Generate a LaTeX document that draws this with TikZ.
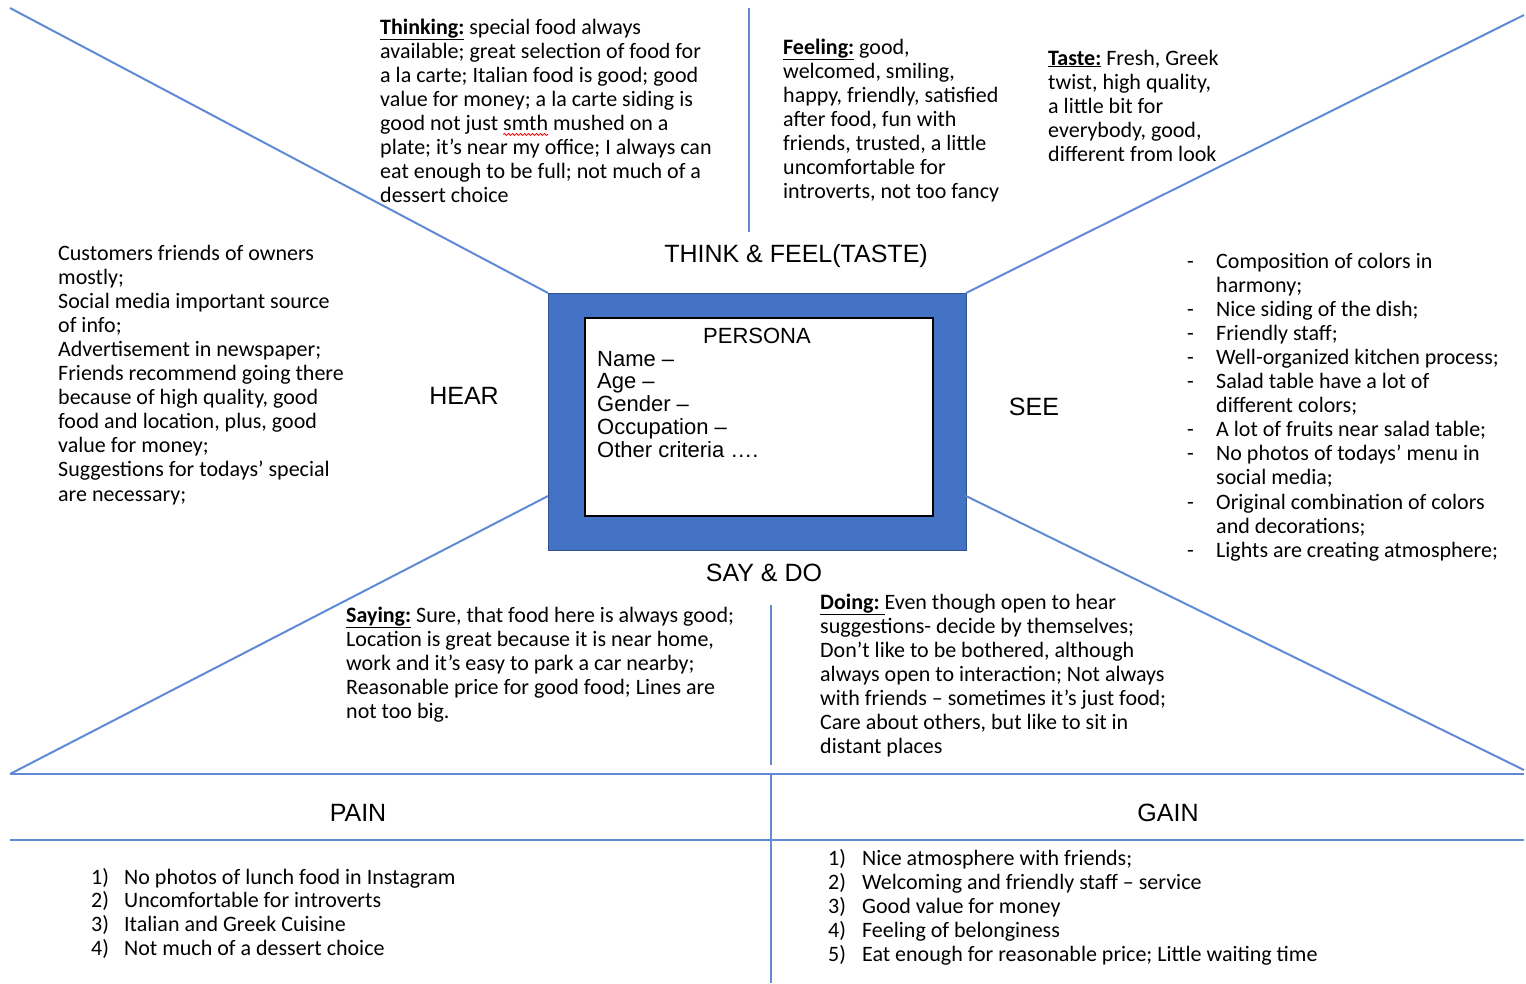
\documentclass[tikz,border=0pt]{standalone}
\usepackage{fontspec}
\usetikzlibrary{decorations.pathmorphing}
\setmainfont{Carlito}
\newfontfamily\arialf{Liberation Sans}
\definecolor{lineblue}{RGB}{96,138,214}
\definecolor{boxblue}{HTML}{4472C4}
\definecolor{boxedge}{HTML}{2F528F}
% red wavy spelling mark under a word
\newcommand\spellwave[1]{\tikz[baseline=(sw.base)]{\node[inner sep=0pt,outer sep=0pt] (sw) {#1};
  \draw[overlay,red,line width=0.8pt,decorate,decoration={snake,amplitude=1pt,segment length=4pt}]
    ([yshift=-4pt]sw.base west) -- ([yshift=-4pt]sw.base east);}}
\newcommand\hd[1]{\underline{\textbf{#1}}}
\newcommand\dashitem{\makebox[32pt][l]{\hspace{3pt}-}}
\newcommand\dashgap{\hspace*{32pt}}
% line pitch of the body text
\def\lp{24.1}
\begin{document}
\begin{tikzpicture}[x=1pt,y=-1pt,
  divider/.style={draw=lineblue,line width=2pt},
  body/.style={font=\fontsize{22}{24.1}\selectfont,align=left,inner sep=0pt,anchor=base west},
  heading/.style={font=\arialf\fontsize{25}{30}\selectfont,inner sep=0pt,anchor=base},
  personatext/.style={font=\arialf\fontsize{22}{22.8}\selectfont,align=left,inner sep=0pt,anchor=base west}]
\useasboundingbox (0,0) rectangle (1526,983);

% central persona frame
\node[fill=boxblue,draw=boxedge,line width=1pt,outer sep=0pt,
      minimum width=418pt,minimum height=257pt] (frame) at (757,421.5) {};
\node[fill=white,draw=black,line width=1.5pt,outer sep=0pt,
      minimum width=348pt,minimum height=198pt] (card) at (759,417) {};

% outer corners and free ends of the dividing lines
\coordinate (tl) at (10,8);
\coordinate (tr) at (1524,15);
\coordinate (bl) at (10,774);
\coordinate (br) at (1524,770);
\coordinate (br2) at (1524,774);
\coordinate (topA) at (749,8);
\coordinate (topB) at (749,232);
\coordinate (midA) at (771,605);
\coordinate (midB) at (771,765);
\coordinate (lowA) at (771,774);
\coordinate (lowB) at (771,983);
\coordinate (rowL) at (10,840);
\coordinate (rowR) at (1524,840);

\draw[divider] (tl) -- (frame.north west);
\draw[divider] (tr) -- (frame.north east);
\draw[divider] (bl) -- ([yshift=54pt]frame.south west);
\draw[divider] (br) -- ([yshift=54pt]frame.south east);
\draw[divider] (topA) -- (topB);
\draw[divider] (midA) -- (midB);
\draw[divider] (bl) -- (br2);
\draw[divider] (lowA) -- (lowB);
\draw[divider] (rowL) -- (rowR);

% persona card (multi-line nodes are placed by the baseline of their last line)
\node[font=\arialf\fontsize{22}{26}\selectfont,inner sep=0pt,anchor=base] (ptitle) at (757,343) {PERSONA};
\node[personatext] (pfields) at (597,{366+4*22.8}) {Name –\\Age –\\Gender –\\Occupation –\\Other criteria ….};

% quadrant headings
\node[heading] (think) at (796,262) {THINK \& FEEL(TASTE)};
\node[heading] (hear) at (464,404) {HEAR};
\node[heading] (see) at (1034,415) {SEE};
\node[heading] (say) at (764,581) {SAY \& DO};
\node[heading] (pain) at (358,821) {PAIN};
\node[heading] (gain) at (1168,821) {GAIN};

% think & feel
\node[body] (thinking) at (380,{34+7*\lp}) {\hd{Thinking:} special food always\\
available; great selection of food for\\
a la carte; Italian food is good; good\\
value for money; a la carte siding is\\
good not just \spellwave{smth} mushed on a\\
plate; it’s near my office; I always can\\
eat enough to be full; not much of a\\
dessert choice};

\node[body] (feeling) at (783,{54+6*\lp}) {\hd{Feeling:} good,\\
welcomed, smiling,\\
happy, friendly, satisfied\\
after food, fun with\\
friends, trusted, a little\\
uncomfortable for\\
introverts, not too fancy};

\node[body] (taste) at (1048,{65+4*\lp}) {\hd{Taste:} Fresh, Greek\\
twist, high quality,\\
a little bit for\\
everybody, good,\\
different from look};

% hear
\node[body] (heartext) at (58,{260+10*\lp}) {Customers friends of owners\\
mostly;\\
Social media important source\\
of info;\\
Advertisement in newspaper;\\
Friends recommend going there\\
because of high quality, good\\
food and location, plus, good\\
value for money;\\
Suggestions for todays’ special\\
are necessary;};

% see
\node[body] (seetext) at (1184,{268+12*\lp}) {\dashitem Composition of colors in\\
\dashgap harmony;\\
\dashitem Nice siding of the dish;\\
\dashitem Friendly staff;\\
\dashitem Well-organized kitchen process;\\
\dashitem Salad table have a lot of\\
\dashgap different colors;\\
\dashitem A lot of fruits near salad table;\\
\dashitem No photos of todays’ menu in\\
\dashgap social media;\\
\dashitem Original combination of colors\\
\dashgap and decorations;\\
\dashitem Lights are creating atmosphere;};

% say & do
\node[body] (saying) at (346,{622+4*\lp}) {\hd{Saying:} Sure, that food here is always good;\\
Location is great because it is near home,\\
work and it’s easy to park a car nearby;\\
Reasonable price for good food; Lines are\\
not too big.};

\node[body] (doing) at (820,{609+6*\lp}) {\underline{\textbf{Doing:}~}Even though open to hear\\
suggestions- decide by themselves;\\
Don’t like to be bothered, although\\
always open to interaction; Not always\\
with friends – sometimes it’s just food;\\
Care about others, but like to sit in\\
distant places};

% pain and gain
\node[body,font=\fontsize{22}{23.7}\selectfont] (painlist) at (91,{884+3*23.7}) {\makebox[33pt][l]{1)}No photos of lunch food in Instagram\\
\makebox[33pt][l]{2)}Uncomfortable for introverts\\
\makebox[33pt][l]{3)}Italian and Greek Cuisine\\
\makebox[33pt][l]{4)}Not much of a dessert choice};

\node[body] (gainlist) at (828,{865+4*\lp}) {\makebox[34pt][l]{1)}Nice atmosphere with friends;\\
\makebox[34pt][l]{2)}Welcoming and friendly staff – service\\
\makebox[34pt][l]{3)}Good value for money\\
\makebox[34pt][l]{4)}Feeling of belonginess\\
\makebox[34pt][l]{5)}Eat enough for reasonable price; Little waiting time};
\end{tikzpicture}
\end{document}
